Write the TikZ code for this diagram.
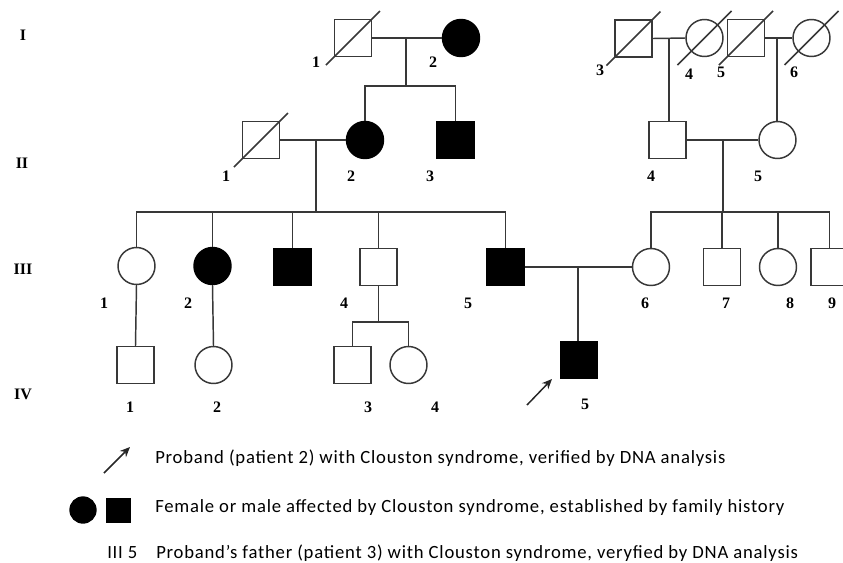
\documentclass[tikz,border=0pt]{standalone}
\usepackage{fontspec}
\setmainfont{Liberation Serif}
\newfontfamily\legfont[LetterSpace=4.2]{Carlito}
\usetikzlibrary{arrows.meta}
\newcommand\deadmark[1]{\draw[ln] ([shift={(-27,27)}]#1.center) -- ([shift={(27,-27)}]#1.center);}
\begin{document}
\begin{tikzpicture}[x=0.75pt,y=-0.75pt,
  ln/.style={draw=black!78, line width=1.1pt},
  ind/.style={minimum size=27.75pt, inner sep=0pt, ln, fill=white},
  sq/.style={ind, rectangle},
  ci/.style={ind, circle},
  aff/.style={fill=black, draw=black},
  lbl/.style={font=\bfseries\fontsize{12}{14}\selectfont, inner sep=0pt},
  leg/.style={font=\legfont\fontsize{14}{16}\selectfont, anchor=west, inner sep=0pt},
  arr/.style={ln, draw=black!85, -{Stealth[length=7.5pt,width=6.5pt]}}
]
\useasboundingbox (0,0) rectangle (843,562);
\clip (0,0) rectangle (843,562);

% generation labels
\node[lbl] (gI) at (23,35) {I};
\node[lbl] (gII) at (22,163) {II};
\node[lbl] (gIII) at (23,269) {III};
\node[lbl] (gIV) at (23,394) {IV};

% ---- connectors (coordinates) ----
\coordinate (mI12) at (406,38);
\coordinate (sI12) at (406,86);
\coordinate (mII12) at (316,140);
\coordinate (sII12) at (316,212);
\coordinate (mI34) at (669,38);
\coordinate (mI56) at (777,38);
\coordinate (mII45) at (723,141);
\coordinate (sII45) at (723,212);
\coordinate (mIII56) at (578,266);
\coordinate (sIII4) at (378.5,322);

% ---- individuals ----
% generation I
\node[sq] (I1) at (353,38) {};
\node[ci,aff] (I2) at (461,38) {};
\node[sq] (I3) at (633.5,38.5) {};
\node[ci] (I4) at (704.5,38) {};
\node[sq] (I5) at (746,38) {};
\node[ci] (I6) at (811.5,38) {};
% generation II
\node[sq] (II1) at (261,140) {};
\node[ci,aff] (II2) at (365,140) {};
\node[sq,aff] (II3) at (455.5,140) {};
\node[sq] (II4) at (667.5,140) {};
\node[ci] (II5) at (777.5,140) {};
% generation III
\node[ci] (III1) at (136.5,266) {};
\node[ci,aff] (III2) at (212.5,266) {};
\node[sq,aff] (III3) at (292.5,267) {};
\node[sq] (III4) at (378.5,267) {};
\node[sq,aff] (III5) at (505.5,267) {};
\node[ci] (III6) at (651,267) {};
\node[sq] (III7) at (722,267) {};
\node[ci] (III8) at (778,267) {};
\node[sq] (III9) at (829.5,267) {};
% generation IV
\node[sq] (IV1) at (135.5,365) {};
\node[ci] (IV2) at (213.5,365) {};
\node[sq] (IV3) at (352.5,365) {};
\node[ci] (IV4) at (408.5,365) {};
\node[sq,aff] (IV5) at (579,360) {};

% ---- lines ----
\draw[ln] (I1.east) -- (I2.west);
\draw[ln] (mI12) -- (sI12);
\draw[ln] (II2.north) |- (sI12) -| (II3.north);

\draw[ln] (I3.east) -- (I4.west);
\draw[ln] (I5.east) -- (I6.west);
\draw[ln] (mI34) -- (mI34 |- II4.north);
\draw[ln] (mI56) -- (mI56 |- II5.north);

\draw[ln] (II1.east) -- (II2.west);
\draw[ln] (mII12) -- (sII12);
\draw[ln] (III1.north) |- (sII12) -| (III5.north);
\draw[ln] (III2.north) -- (III2.north |- sII12);
\draw[ln] (III3.north) -- (III3.north |- sII12);
\draw[ln] (III4.north) -- (III4.north |- sII12);

\draw[ln] (II4.east) -- (II5.west);
\draw[ln] (mII45) -- (sII45);
\draw[ln] (III6.north) |- (sII45) -| (III9.north);
\draw[ln] (III7.north) -- (III7.north |- sII45);
\draw[ln] (III8.north) -- (III8.north |- sII45);

\draw[ln] (III5.east) -- (III6.west);
\draw[ln] (mIII56) -- (mIII56 |- IV5.north);

\draw[ln] (III1.south) -- (IV1.north);
\draw[ln] (III2.south) -- (IV2.north);
\draw[ln] (III4.south) -- (sIII4);
\draw[ln] (IV3.north) |- (sIII4) -| (IV4.north);

% death marks
\deadmark{I1}
\deadmark{I3}
\deadmark{I4}
\deadmark{I5}
\deadmark{I6}
\deadmark{II1}

% proband arrow
\coordinate (pa) at (527,405);
\draw[arr] (pa) -- (552,379);

% ---- individual labels ----
\node[lbl] (lI1) at (316,62) {1};
\node[lbl] (lI2) at (433,62) {2};
\node[lbl] (lI3) at (600,70) {3};
\node[lbl] (lI4) at (689,74) {4};
\node[lbl] (lI5) at (721,72) {5};
\node[lbl] (lI6) at (794,72) {6};
\node[lbl] (lII1) at (226,176) {1};
\node[lbl] (lII2) at (351,176) {2};
\node[lbl] (lII3) at (430,176) {3};
\node[lbl] (lII4) at (651,176) {4};
\node[lbl] (lII5) at (758,176) {5};
\node[lbl] (lIII1) at (104,303) {1};
\node[lbl] (lIII2) at (188,303) {2};
\node[lbl] (lIII4) at (344,303) {4};
\node[lbl] (lIII5) at (468,303) {5};
\node[lbl] (lIII6) at (645,303) {6};
\node[lbl] (lIII7) at (726,303) {7};
\node[lbl] (lIII8) at (790,303) {8};
\node[lbl] (lIII9) at (832,303) {9};
\node[lbl] (lIV1) at (130,407) {1};
\node[lbl] (lIV2) at (217,407) {2};
\node[lbl] (lIV3) at (368,407) {3};
\node[lbl] (lIV4) at (435,407) {4};
\node[lbl] (lIV5) at (585,404) {5};

% ---- legend ----
\coordinate (la) at (104,473);
\draw[arr] (la) -- (130,447);
\node[leg] (t1) at (155,458) {Proband (patient 2) with Clouston syndrome, verified by DNA analysis};
\node[circle, fill=black, minimum size=20.5pt, inner sep=0pt] (lc) at (83,510) {};
\node[rectangle, fill=black, minimum size=18.75pt, inner sep=0pt] (ls) at (118.5,510) {};
\node[leg] (t2) at (155,508) {Female or male affected by Clouston syndrome, established by family history};
\node[leg] (t3l) at (107,553) {III 5};
\node[leg] (t3) at (156,553) {Proband’s father (patient 3) with Clouston syndrome, veryfied by DNA analysis};
\end{tikzpicture}
\end{document}
